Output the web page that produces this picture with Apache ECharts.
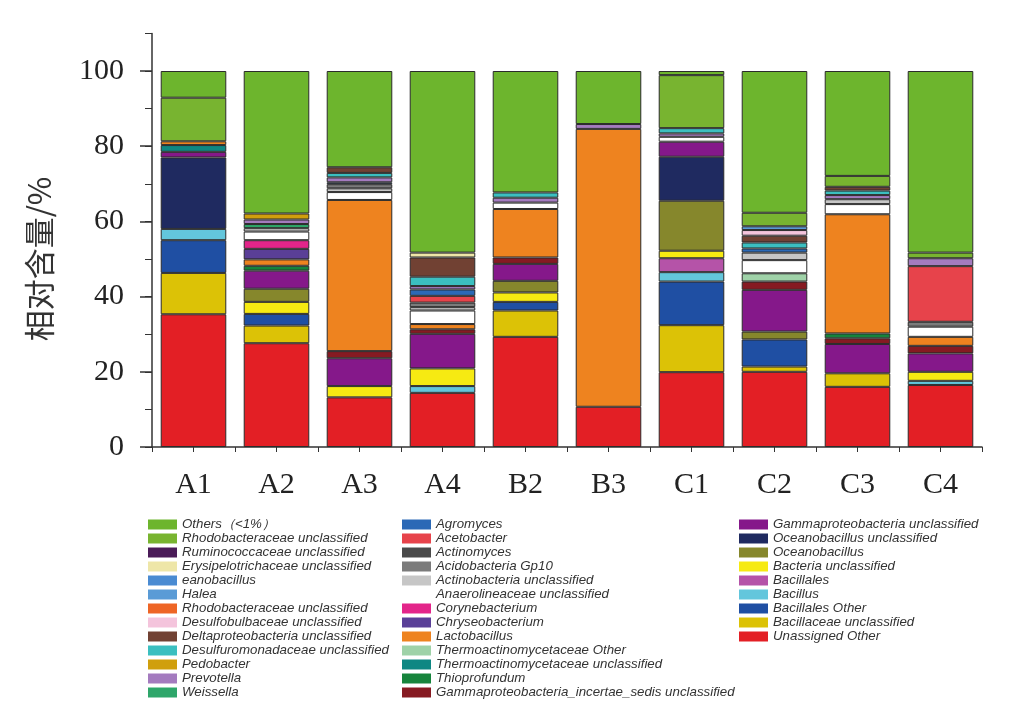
<!DOCTYPE html>
<html><head><meta charset="utf-8">
<script src="https://cdn.jsdelivr.net/npm/echarts@6/dist/echarts.min.js"></script>
<style>html,body{margin:0;padding:0;background:#fff}#c{width:1025px;height:724px}</style>
</head><body><div id="c"></div>
<script>
// Samples (x categories)
const categories = ['A1','A2','A3','A4','B2','B3','C1','C2','C3','C4'];
// Y tick labels
const yTicks = [0,20,40,60,80,100];

// Taxa, stacked from bottom to top (values in % for A1..C4)
const unassignedOther      = [35.3,27.6,13.2,14.4,29.3,10.7,19.9,20.0,16.0,16.5];
const bacillaceaeUncl      = [11.0, 4.7, 0,   0,   7.0, 0,  12.5, 1.4, 3.6, 0];
const bacillalesOther      = [ 8.7, 3.1, 0,   0,   2.3, 0,  11.6, 7.2, 0,   0];
const bacillus             = [ 3.0, 0,   0,   1.8, 0,   0,   2.5, 0,   0,   1.1];
const bacillales           = [ 0,   0,   0,   0,   0,   0,   3.7, 0,   0,   0];
const bacteriaUncl         = [ 0,   3.2, 3.0, 4.7, 2.5, 0,   2.0, 0,   0,   2.4];
const oceanobacillus       = [ 0,   3.5, 0,   0,   3.1, 0,  13.3, 2.1, 0,   0];
const oceanobacillusUncl   = [19.0, 0,   0,   0,   0,   0,  11.7, 0,   0,   0];
const gammaUncl            = [ 1.5, 4.8, 7.4, 9.2, 4.5, 0,   4.0,11.1, 7.8, 4.9];
const gammaIncertaeUncl    = [ 0,   0,   1.9, 1.2, 1.7, 0,   0,   2.2, 1.5, 2.0];
const thioprofundum        = [ 0,   1.3, 0,   0,   0,   0,   0,   0,   1.3, 0];
const thermoUncl           = [ 1.8, 0,   0,   0,   0,   0,   0,   0,   0,   0];
const thermoOther          = [ 0,   0,   0,   0,   0,   0,   0,   2.2, 0,   0];
const lactobacillus        = [ 1.0, 1.7,40.2, 1.4,12.9,73.9, 0,   0,  31.7, 2.4];
const chryseobacterium     = [ 0,   2.8, 0,   0,   0,   0,   0,   0,   0,   0];
const corynebacterium      = [ 0,   2.3, 0,   0,   0,   0,   0,   0,   0,   0];
const anaerolineaceaeUncl  = [ 0,   2.3, 2.1, 3.6, 1.7, 0,   1.3, 3.5, 2.7, 2.7];
const actinobacteriaUncl   = [ 0,   0.9, 1.0, 0.9, 0,   0,   0,   2.0, 1.3, 0];
const acidobacteriaGp10    = [ 0,   0,   1.1, 1.2, 0,   0,   0,   0,   0,   1.3];
const actinomyces          = [ 0,   0,   0,   0,   0,   0,   0,   0,   0,   0];
const acetobacter          = [ 0,   0,   0,   1.8, 0,   0,   0,   0,   0,  14.8];
const agromyces            = [ 0,   0,   0.5, 1.7, 0,   0,   0,   1.1, 0,   0];
const weissella            = [ 0,   1.1, 0,   0,   0,   0,   0,   0,   0,   0];
const prevotella           = [ 0,   1.2, 1.3, 0.9, 1.3, 1.3, 0.9, 0,   1.1, 2.1];
const pedobacter           = [ 0,   1.6, 0,   0,   0,   0,   0,   0,   0,   0];
const desulfuromonadUncl   = [ 0,   0,   1.2, 2.5, 1.4, 0,   1.4, 1.6, 1.2, 0];
const deltaproteoUncl      = [ 0,   0,   1.5, 5.1, 0,   0,   0,   1.8, 1.0, 0];
const desulfobulbUncl      = [ 0,   0,   0,   0,   0,   0,   0,   1.5, 0,   0];
const rhodobacterUnclB     = [ 0,   0,   0,   0,   0,   0,   0,   0,   0,   0];
const halea                = [ 0,   0,   0,   0,   0,   0,   0,   1.0, 0,   0];
const eanobacillus         = [ 0,   0,   0,   0,   0,   0,   0,   0,   0,   0];
const erysipeloUncl        = [ 0,   0,   0,   1.3, 0,   0,   0,   0,   0,   0];
const ruminococcUncl       = [ 0,   0,   0,   0,   0,   0,   0,   0,   0,   0];
const rhodobacterUnclA     = [11.6, 0,   0,   0,   0,   0,  14.1, 3.6, 2.9, 1.5];
const others               = [ 7.1,37.9,25.6,48.3,32.3,14.1, 1.1,37.7,27.9,48.3];

const taxa = [
  ['Unassigned Other', unassignedOther, '#e31f25'],
  ['Bacillaceae unclassified', bacillaceaeUncl, '#dcc206'],
  ['Bacillales Other', bacillalesOther, '#1f4fa3'],
  ['Bacillus', bacillus, '#63c6dc'],
  ['Bacillales', bacillales, '#b553a8'],
  ['Bacteria unclassified', bacteriaUncl, '#f6ea12'],
  ['Oceanobacillus', oceanobacillus, '#86872c'],
  ['Oceanobacillus unclassified', oceanobacillusUncl, '#1f2a60'],
  ['Gammaproteobacteria unclassified', gammaUncl, '#85188a'],
  ['Gammaproteobacteria_incertae_sedis unclassified', gammaIncertaeUncl, '#861a22'],
  ['Thioprofundum', thioprofundum, '#16843c'],
  ['Thermoactinomycetaceae unclassified', thermoUncl, '#0e8783'],
  ['Thermoactinomycetaceae Other', thermoOther, '#9fd2a8'],
  ['Lactobacillus', lactobacillus, '#ee831f'],
  ['Chryseobacterium', chryseobacterium, '#5a3f97'],
  ['Corynebacterium', corynebacterium, '#e3258a'],
  ['Anaerolineaceae unclassified', anaerolineaceaeUncl, '#ffffff'],
  ['Actinobacteria unclassified', actinobacteriaUncl, '#c6c6c6'],
  ['Acidobacteria Gp10', acidobacteriaGp10, '#7b7b7b'],
  ['Actinomyces', actinomyces, '#4a4a4a'],
  ['Acetobacter', acetobacter, '#e7434b'],
  ['Agromyces', agromyces, '#2b69b6'],
  ['Weissella', weissella, '#2ea66a'],
  ['Prevotella', prevotella, '#a47bbf'],
  ['Pedobacter', pedobacter, '#d09f0d'],
  ['Desulfuromonadaceae unclassified', desulfuromonadUncl, '#3bbfc0'],
  ['Deltaproteobacteria unclassified', deltaproteoUncl, '#714133'],
  ['Desulfobulbaceae unclassified', desulfobulbUncl, '#f4c4dc'],
  ['Rhodobacteraceae unclassified\u200b', rhodobacterUnclB, '#ee6525'],
  ['Halea', halea, '#5a9bd6'],
  ['eanobacillus', eanobacillus, '#4a8bd2'],
  ['Erysipelotrichaceae unclassified', erysipeloUncl, '#eee6a8'],
  ['Ruminococcaceae unclassified', ruminococcUncl, '#4a1b58'],
  ['Rhodobacteraceae unclassified', rhodobacterUnclA, '#78b430'],
  ['Others（<1%）', others, '#6db52d']
];

const series = taxa.map(t => ({
  name: t[0], type: 'bar', stack: 'all', xAxisIndex: 0, yAxisIndex: 0,
  barWidth: '79%',
  data: t[1].map(v => v === 0 ? '-' : v),
  itemStyle: { color: t[2], borderColor: '#2b2b2b', borderWidth: 1 }
}));

const names = taxa.map(t => t[0]).reverse(); // top of stack first
const legendCommon = {
  orient: 'vertical', top: 518, itemWidth: 29, itemHeight: 10, itemGap: 1,
  icon: 'rect', selectedMode: false, padding: 0,
  itemStyle: { borderWidth: 0 },
  textStyle: { fontFamily: 'Liberation Sans', fontStyle: 'italic', fontSize: 13.3, color: '#333', lineHeight: 12 }
};

const chart = echarts.init(document.getElementById('c'), null, { renderer: 'canvas' });
chart.setOption({
  animation: false,
  backgroundColor: '#fff',
  grid: [
    { left: 152, right: 43, top: 33.4, bottom: 277 },
    { left: 152, right: 43, top: 71, bottom: 277 }
  ],
  legend: [
    Object.assign({}, legendCommon, { left: 148, data: names.slice(0, 13) }),
    Object.assign({}, legendCommon, { left: 402, data: names.slice(13, 26) }),
    Object.assign({}, legendCommon, { left: 739, data: names.slice(26) })
  ],
  xAxis: [
    { type: 'category', gridIndex: 0, data: categories,
      axisLine: { lineStyle: { color: '#333', width: 1.5 } },
      axisTick: { show: true, length: 5, lineStyle: { color: '#333' } },
      axisLabel: { fontFamily: 'Liberation Serif', fontSize: 30, color: '#222', margin: 23 } },
    { type: 'category', gridIndex: 0, data: categories, position: 'bottom',
      axisLine: { show: false },
      axisTick: { show: true, alignWithLabel: true, length: 5, lineStyle: { color: '#333' } },
      axisLabel: { show: false } },
    { type: 'category', gridIndex: 1, data: categories, show: false }
  ],
  yAxis: [
    { type: 'value', gridIndex: 0, min: 0, max: 110, interval: 10,
      axisLine: { show: true, lineStyle: { color: '#333', width: 1.5 } },
      axisTick: { show: true, length: 7, lineStyle: { color: '#333' } },
      axisLabel: { show: false }, splitLine: { show: false } },
    { type: 'value', gridIndex: 1, min: yTicks[0], max: yTicks[yTicks.length - 1], interval: 20,
      name: '相对含量/%', nameLocation: 'middle', nameGap: 97,
      nameTextStyle: { fontFamily: 'Noto Sans CJK SC', fontSize: 31, color: '#333' },
      axisLine: { show: false },
      axisTick: { show: true, length: 12, lineStyle: { color: '#333', width: 1.5 } },
      axisLabel: { fontFamily: 'Liberation Serif', fontSize: 30, color: '#222', margin: 28 },
      splitLine: { show: false } }
  ],
  series: series
});
</script>
</body></html>
